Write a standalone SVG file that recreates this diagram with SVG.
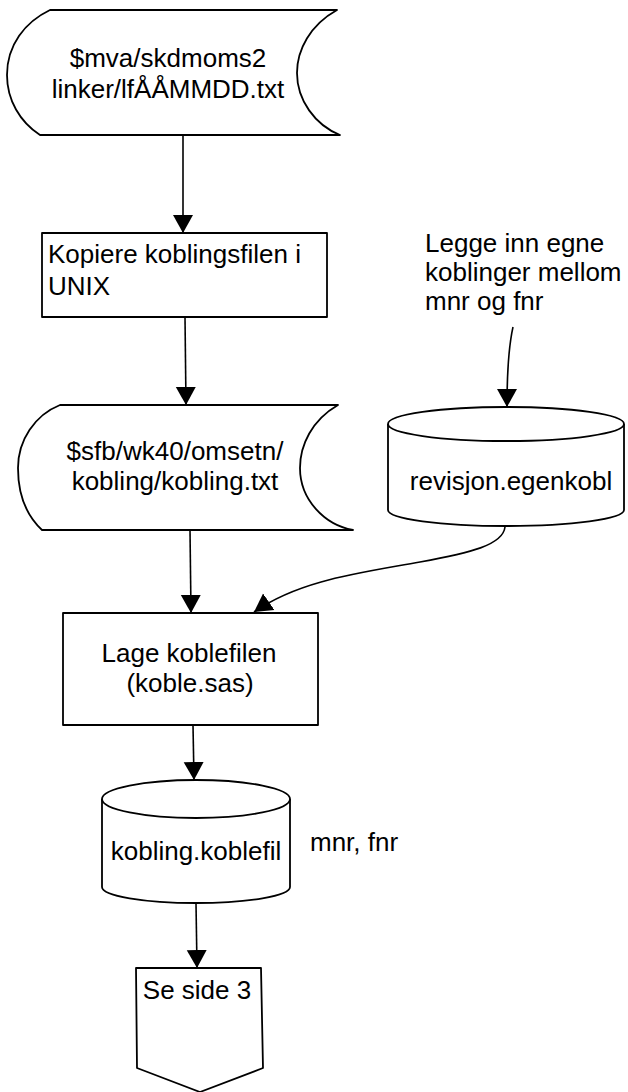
<svg xmlns="http://www.w3.org/2000/svg" width="628" height="1092" viewBox="0 0 628 1092">
<defs>
<marker id="ah" markerUnits="userSpaceOnUse" markerWidth="20" markerHeight="22" refX="18" refY="10" orient="auto" viewBox="0 0 20 20">
<path d="M0,0 L18,10 L0,20 Z" fill="#000"/>
</marker>
<style>
.s{fill:#fff;stroke:#000;stroke-width:1.8;stroke-linejoin:round}
.c{fill:none;stroke:#000;stroke-width:1.6}
text{font-family:"Liberation Sans",Arial,sans-serif;font-size:26px;fill:#000}
.m{text-anchor:middle}
</style>
</defs>
<rect width="628" height="1092" fill="#fff"/>
<g id="connectors">
<path class="c" d="M183,135 L183,233" marker-end="url(#ah)"/>
<path class="c" d="M185,317 L186,405" marker-end="url(#ah)"/>
<path class="c" d="M513,327 C509,345 507,365 507,407" marker-end="url(#ah)"/>
<path class="c" d="M190,530 L191,613" marker-end="url(#ah)"/>
<path class="c" d="M505,527 C503,545 470,553 420,562 C360,573 300,580 254,612" marker-end="url(#ah)"/>
<path class="c" d="M193,725 L194,780" marker-end="url(#ah)"/>
<path class="c" d="M196,903 L197,968" marker-end="url(#ah)"/>
</g>
<g id="n1">
<path class="s" d="M50,10 L337,10 C310,25 297,50 297,73 C297,100 315,125 340,135 L40,135 C20,122 7,100 7,75 C7,45 25,22 50,10 Z"/>
<text class="m" x="168" y="67">$mva/skdmoms2</text>
<text class="m" x="168" y="98">linker/lfÅÅMMDD.txt</text>
</g>
<g id="n2">
<rect class="s" x="42" y="233" width="285" height="84"/>
<text x="48" y="263">Kopiere koblingsfilen i</text>
<text x="48" y="295">UNIX</text>
</g>
<g id="n3">
<path class="s" d="M60,405 L338,405 C312,420 300,445 300,468 C300,500 325,525 353,530 L42,530 C26,515 18,495 18,468 C18,440 35,415 60,405 Z"/>
<text class="m" x="175" y="460">$sfb/wk40/omsetn/</text>
<text class="m" x="175" y="490">kobling/kobling.txt</text>
</g>
<g id="label1">
<text x="425" y="252">Legge inn egne</text>
<text x="425" y="281">koblinger mellom</text>
<text x="425" y="310">mnr og fnr</text>
</g>
<g id="n4">
<path class="s" d="M388,424 L388,510 A118,16 0 0 0 624,510 L624,424"/>
<ellipse class="s" cx="506" cy="424" rx="118" ry="17"/>
<text class="m" x="511" y="490">revisjon.egenkobl</text>
</g>
<g id="n5">
<rect class="s" x="63" y="613" width="255" height="112"/>
<text class="m" x="189" y="662">Lage koblefilen</text>
<text class="m" x="190" y="692">(koble.sas)</text>
</g>
<g id="n6">
<path class="s" d="M102,799 L102,887 A94,16 0 0 0 290,887 L290,799"/>
<ellipse class="s" cx="196" cy="799" rx="94" ry="19"/>
<text class="m" x="196" y="860">kobling.koblefil</text>
</g>
<text x="310" y="851">mnr, fnr</text>
<g id="n7">
<path class="s" d="M136,968 L261,968 L263,1068 L200,1092 L137,1068 Z"/>
<text class="m" x="197" y="999">Se side 3</text>
</g>
</svg>
